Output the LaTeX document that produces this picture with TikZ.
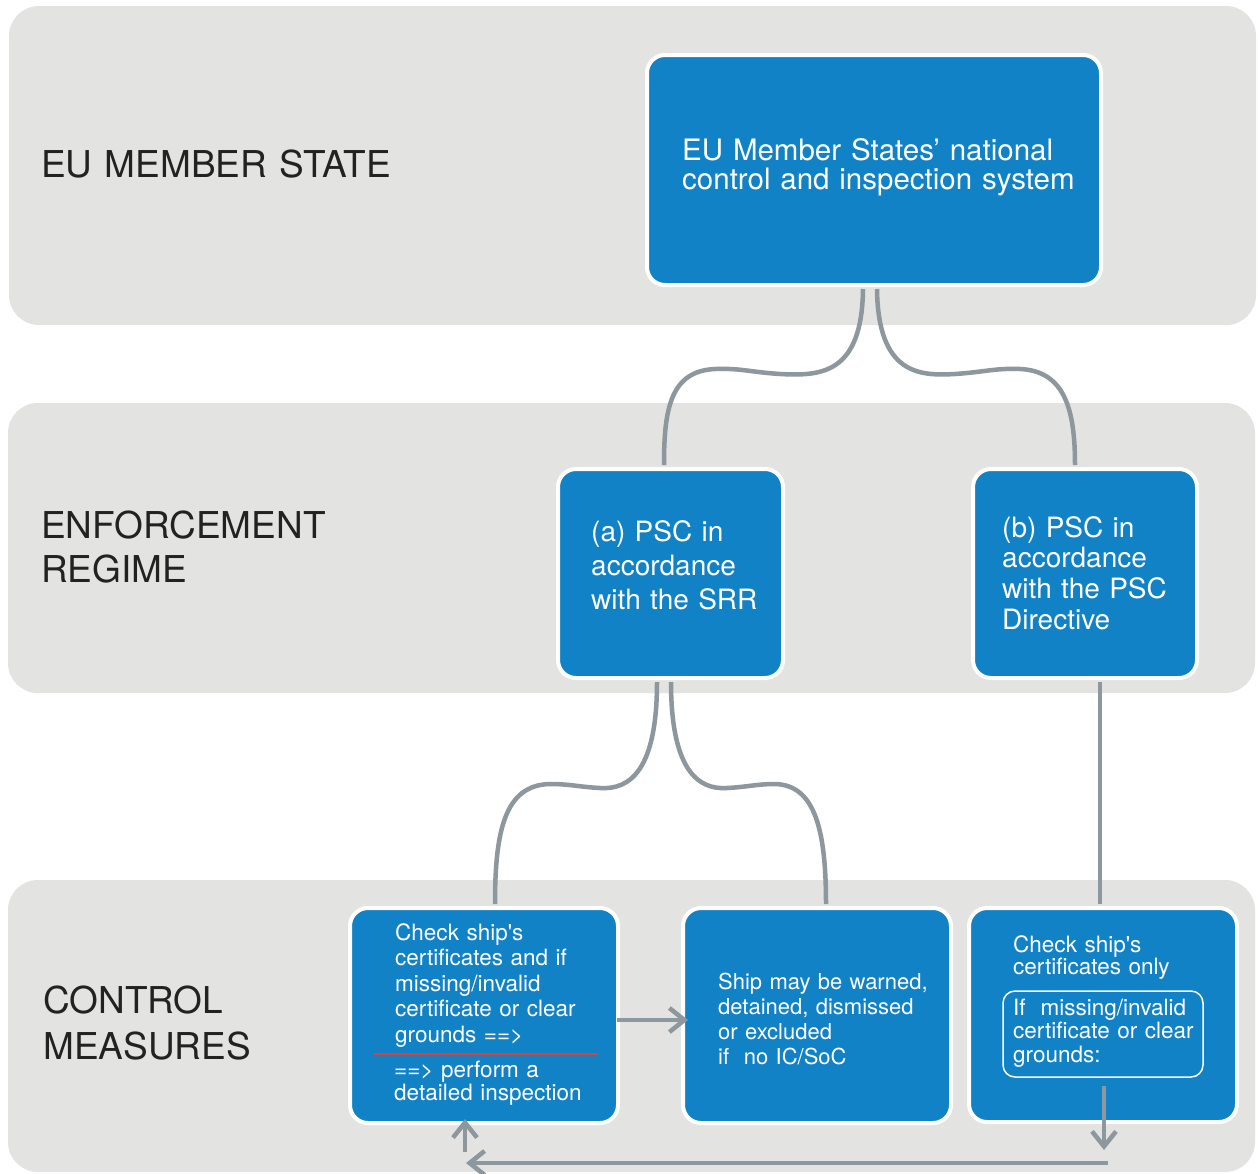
\documentclass[tikz,border=0pt]{standalone}
\usepackage{fontspec}
\setmainfont{TeX Gyre Heros}
\usetikzlibrary{arrows.meta,calc}
\definecolor{bandgray}{HTML}{E3E3E2}
\definecolor{boxblue}{HTML}{1182C5}
\definecolor{conngray}{HTML}{8C979E}
\definecolor{labeltext}{HTML}{222222}
\definecolor{redline}{HTML}{D9433A}
\begin{document}
\begin{tikzpicture}[x=1pt,y=-1pt,
  band/.style={fill=bandgray, rounded corners=30pt},
  bluebox/.style={draw=white, line width=4pt, fill=boxblue, rounded corners=18pt, inner sep=0pt},
  innerbox/.style={draw=white, line width=1.5pt, rounded corners=12pt, inner sep=0pt},
  bandlabel/.style={anchor=base west, inner sep=0pt, align=left, text=labeltext, text width=400pt},
  boxtext/.style={anchor=base west, inner sep=0pt, align=left, text=white},
  conn/.style={draw=conngray, line width=4.5pt},
  arr/.style={conn, -{Straight Barb[length=15pt,width=24pt]}}
]
\useasboundingbox (0,0) rectangle (1258,1173);
\fill[white] (0,0) rectangle (1258,1173);
% bands
\fill[band] (9,6) rectangle (1256,325);
\fill[band] (8,403) rectangle (1255,693);
\fill[band] (8,880) rectangle (1255,1172);

% band labels
\node[bandlabel, font=\fontsize{37}{44}\selectfont] (lab1) at (41,177) {EU MEMBER STATE};
\node[bandlabel, font=\fontsize{37}{44}\selectfont] (lab2) at (41,538) {ENFORCEMENT\\REGIME};
\node[bandlabel, font=\fontsize{37}{46}\selectfont] (lab3) at (43,1013) {CONTROL\\MEASURES};

% boxes
\node[bluebox, minimum width=454pt, minimum height=230pt] (ms) at (874,170) {};
\node[bluebox, minimum width=225pt, minimum height=209pt] (a) at (670.5,573.5) {};
\node[bluebox, minimum width=224pt, minimum height=209pt] (b) at (1085,573.5) {};
\node[bluebox, minimum width=268pt, minimum height=215pt] (box1) at (484,1015.5) {};
\node[bluebox, minimum width=268pt, minimum height=215pt] (box2) at (817,1015.5) {};
\node[bluebox, minimum width=268pt, minimum height=214pt] (box3) at (1103,1015) {};
\node[innerbox, minimum width=200pt, minimum height=86pt] (inner) at (1103,1034) {};

% texts
\node[boxtext, text width=430pt, font=\fontsize{29.5}{29}\selectfont] (mst) at (682,160)
  {EU Member States’ national\\control and inspection system};
\node[boxtext, text width=190pt, font=\fontsize{28}{34}\selectfont] (at) at (591,541)
  {(a) PSC in\\accordance\\with the SRR};
\node[boxtext, text width=190pt, font=\fontsize{28}{30.7}\selectfont] (bt) at (1002,537)
  {(b) PSC in\\accordance\\with the PSC\\Directive};
\node[boxtext, text width=230pt, font=\fontsize{22.5}{25.5}\selectfont] (t1) at (395,940)
  {Check ship\textquotesingle s\\certificates and if\\missing/invalid\\certificate or clear\\grounds ==>};
\node[boxtext, text width=230pt, font=\fontsize{22.5}{23}\selectfont] (t1b) at (394,1077)
  {==> perform a\\detailed inspection};
\node[boxtext, text width=230pt, font=\fontsize{22}{25.3}\selectfont] (t2) at (718,989)
  {Ship may be warned,\\detained, dismissed\\or excluded\\if\ \ no IC/SoC};
\node[boxtext, text width=220pt, font=\fontsize{22.5}{22}\selectfont] (t3) at (1013,952)
  {Check ship\textquotesingle s\\certificates only};
\node[boxtext, text width=190pt, font=\fontsize{22.5}{23.5}\selectfont] (t3b) at (1013,1015)
  {If\ \ missing/invalid\\certificate or clear\\grounds:};

% red separator
\draw[redline, line width=1.7pt] ($(box1.west)+(26,38.5)$) -- ($(box1.east)+(-22,38.5)$);

% curved connectors
\draw[conn] ($(ms.south)+(-11,2)$) .. controls (862,375) and (820,376) .. (780,374)
  .. controls (750,372) and (740,368) .. (715,369)
  .. controls (670,371) and (664,410) .. ($(a.north)+(-6.5,-2)$);
\draw[conn] ($(ms.south)+(3,2)$) .. controls (878,375) and (920,376) .. (955,374)
  .. controls (985,372) and (995,368) .. (1020,369)
  .. controls (1065,371) and (1075,410) .. ($(b.north)+(-10,-2)$);
\draw[conn] ($(a.south)+(-13.5,2)$) .. controls (657,770) and (630,790) .. (600,788)
  .. controls (580,787) and (570,784) .. (550,784)
  .. controls (505,785) and (495,830) .. ($(box1.north)+(11,-2)$);
\draw[conn] ($(a.south)+(0.5,2)$) .. controls (671,770) and (698,790) .. (727,788)
  .. controls (747,787) and (757,784) .. (775,784)
  .. controls (815,785) and (826,830) .. ($(box2.north)+(9,-2)$);
\draw[conn] ($(b.south)+(15,2)$) -- ($(box3.north)+(-3,-2)$);

% arrows
\draw[arr] ($(box1.east)+(-3,4.5)$) -- ($(box2.west)+(7,4.5)$);
\draw[arr] ($(inner.south)+(1,8)$) -- ($(box3.south)+(1,26)$);
\draw[arr] ($(box3.south)+(5,39)$) -- ($(box1.south)+(-18,38)$);
\draw[arr] ($(box1.south)+(-19,27)$) -- ($(box1.south)+(-19,-6)$);
\end{tikzpicture}
\end{document}
